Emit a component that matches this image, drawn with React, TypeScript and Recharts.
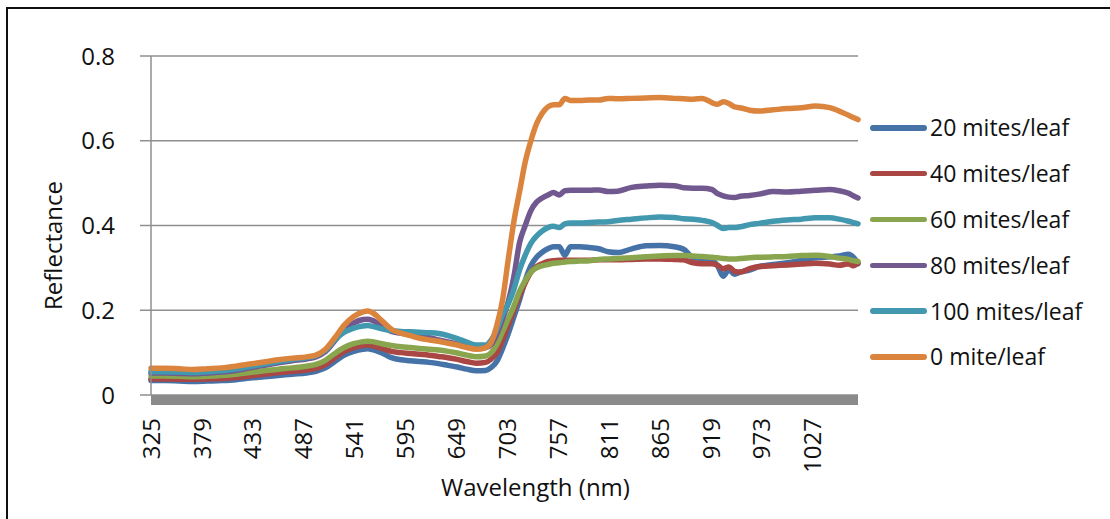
import { CartesianGrid, Line, LineChart, XAxis, YAxis } from "recharts";

// wavelengths (nm) sampled from the reference curves
const WAVELENGTHS = [
  325, 340, 355, 370, 385, 400, 415, 430, 445, 460,
  475, 490, 500, 510, 520, 530, 540, 550, 555, 560,
  570, 580, 590, 600, 610, 620, 630, 640, 650, 660,
  670, 680, 686, 692, 698, 704, 710, 716, 722, 728,
  734, 740, 746, 752, 758, 764, 770, 780, 790, 800,
  810, 820, 835, 850, 865, 880, 890, 900, 910, 920,
  926, 932, 938, 944, 950, 960, 970, 985, 1000, 1015,
  1030, 1045, 1055, 1065, 1070, 1075,
];

const MITES_20 = [
  0.034, 0.034, 0.033, 0.032, 0.033, 0.034, 0.036, 0.04, 0.043, 0.046,
  0.049, 0.052, 0.056, 0.064, 0.079, 0.094, 0.103, 0.108, 0.109, 0.107,
  0.099, 0.088, 0.083, 0.081, 0.079, 0.077, 0.074, 0.07, 0.066, 0.061,
  0.057, 0.058, 0.065, 0.08, 0.11, 0.145, 0.185, 0.225, 0.27, 0.305,
  0.325, 0.337, 0.345, 0.35, 0.35, 0.33, 0.35, 0.35, 0.348, 0.345,
  0.338, 0.336, 0.345, 0.352, 0.353, 0.35, 0.344, 0.325, 0.322, 0.318,
  0.305, 0.28, 0.296, 0.285, 0.29, 0.295, 0.303, 0.308, 0.312, 0.318,
  0.324, 0.326, 0.328, 0.332, 0.325, 0.31,
];

const MITES_40 = [
  0.038, 0.038, 0.037, 0.037, 0.038, 0.039, 0.041, 0.045, 0.049, 0.053,
  0.056, 0.059, 0.063, 0.072, 0.088, 0.103, 0.112, 0.117, 0.118, 0.116,
  0.11, 0.103, 0.1, 0.098, 0.096, 0.094, 0.091, 0.088, 0.084, 0.079,
  0.075, 0.077, 0.085, 0.1, 0.13, 0.165, 0.2, 0.235, 0.265, 0.29,
  0.303, 0.31, 0.315, 0.317, 0.318, 0.318, 0.318, 0.318, 0.318, 0.319,
  0.319, 0.319, 0.32, 0.321, 0.321, 0.32, 0.319, 0.312, 0.31, 0.31,
  0.306, 0.298, 0.302, 0.292, 0.29, 0.298, 0.303, 0.305, 0.307, 0.309,
  0.311, 0.309, 0.306, 0.31, 0.305, 0.312,
];

const MITES_60 = [
  0.045, 0.045, 0.044, 0.043, 0.044, 0.046, 0.049, 0.053, 0.057, 0.061,
  0.064, 0.068, 0.072, 0.082, 0.098, 0.112, 0.121, 0.126, 0.127, 0.126,
  0.121, 0.117, 0.114, 0.112, 0.11, 0.108, 0.106, 0.103, 0.099, 0.094,
  0.09, 0.092, 0.1, 0.12, 0.15, 0.18, 0.21, 0.245, 0.27, 0.29,
  0.3, 0.305, 0.308, 0.311, 0.312, 0.314, 0.315, 0.316, 0.317, 0.32,
  0.321, 0.322, 0.324, 0.326, 0.328, 0.329, 0.329, 0.328, 0.327, 0.325,
  0.324, 0.322, 0.321, 0.321, 0.322, 0.324, 0.325, 0.326, 0.327, 0.329,
  0.33, 0.327, 0.323, 0.32, 0.317, 0.315,
];

const MITES_80 = [
  0.052, 0.052, 0.051, 0.05, 0.052, 0.054, 0.058, 0.064, 0.07, 0.076,
  0.081, 0.085, 0.09, 0.102, 0.128, 0.155, 0.17, 0.178, 0.179, 0.176,
  0.163, 0.15, 0.146, 0.142, 0.138, 0.135, 0.13, 0.125, 0.12, 0.114,
  0.11, 0.112, 0.12, 0.145, 0.18, 0.22, 0.28, 0.36, 0.4, 0.435,
  0.455, 0.465, 0.472, 0.478, 0.472, 0.482, 0.483, 0.483, 0.483, 0.484,
  0.48, 0.481, 0.49, 0.493, 0.495, 0.494, 0.489, 0.488, 0.488, 0.485,
  0.475, 0.47, 0.467, 0.466, 0.469, 0.471, 0.474, 0.48, 0.479, 0.481,
  0.483, 0.485, 0.482, 0.476, 0.47, 0.465,
];

const MITES_100 = [
  0.055, 0.055, 0.054, 0.053, 0.055, 0.057, 0.061, 0.067, 0.073, 0.079,
  0.084, 0.088, 0.093, 0.105, 0.13, 0.148, 0.158, 0.163, 0.164, 0.162,
  0.156, 0.152, 0.15, 0.149, 0.148, 0.147, 0.145, 0.14, 0.133, 0.125,
  0.118, 0.118, 0.13, 0.155, 0.19, 0.215, 0.25, 0.295, 0.33, 0.358,
  0.375, 0.387, 0.395, 0.398, 0.395, 0.404, 0.406, 0.406, 0.407, 0.408,
  0.409, 0.412, 0.415, 0.418, 0.42, 0.419, 0.416, 0.415, 0.412, 0.407,
  0.4, 0.393, 0.395, 0.395, 0.397, 0.402, 0.405, 0.41, 0.413, 0.415,
  0.418, 0.418, 0.415, 0.41, 0.407, 0.404,
];

const MITES_0 = [
  0.063, 0.063, 0.062, 0.06, 0.062, 0.064, 0.068, 0.073, 0.078, 0.083,
  0.087, 0.09, 0.094, 0.108, 0.135, 0.165, 0.185, 0.196, 0.198, 0.194,
  0.175, 0.155, 0.146, 0.14, 0.134, 0.13, 0.127, 0.122, 0.118, 0.112,
  0.108, 0.112, 0.125, 0.165, 0.225, 0.32, 0.41, 0.48, 0.55, 0.6,
  0.64, 0.665, 0.68, 0.685, 0.685, 0.7, 0.695, 0.695, 0.696, 0.696,
  0.7, 0.699, 0.7, 0.701, 0.702, 0.7, 0.699, 0.698, 0.7, 0.69,
  0.686, 0.692, 0.688, 0.68, 0.678, 0.672, 0.67, 0.673, 0.676, 0.678,
  0.682, 0.678, 0.67, 0.66, 0.655, 0.65,
];

const X_TICKS = [325, 379, 433, 487, 541, 595, 649, 703, 757, 811, 865, 919, 973, 1027];
const Y_TICKS = [0, 0.2, 0.4, 0.6, 0.8];

const SERIES = [
  { key: "m20", name: "20 mites/leaf", color: "#4572A7", values: MITES_20 },
  { key: "m40", name: "40 mites/leaf", color: "#AA4643", values: MITES_40 },
  { key: "m60", name: "60 mites/leaf", color: "#89A54E", values: MITES_60 },
  { key: "m80", name: "80 mites/leaf", color: "#71588F", values: MITES_80 },
  { key: "m100", name: "100 mites/leaf", color: "#4198AF", values: MITES_100 },
  { key: "m0", name: "0 mite/leaf", color: "#DB843D", values: MITES_0 },
];

const rows = WAVELENGTHS.map((wl, i) => {
  const row: Record<string, number> = { wl };
  SERIES.forEach((s) => {
    row[s.key] = s.values[i];
  });
  return row;
});

const FONT = 24;
const GRID = "#8f8f8f";

function WavelengthTick({ x, y, payload }: any) {
  const ty = y + 23;
  return (
    <text x={x} y={ty} transform={`rotate(-90, ${x}, ${ty})`} textAnchor="end" dy="0.36em" fontSize={FONT} fill="#111">
      {payload.value}
    </text>
  );
}

function XTitle({ viewBox }: any) {
  const cx = viewBox.x + viewBox.width / 2 + 31;
  return (
    <text x={cx} y={viewBox.y + 92} textAnchor="middle" dy="0.36em" fontSize={FONT} fill="#111">
      Wavelength (nm)
    </text>
  );
}

function YTitle({ viewBox }: any) {
  const cx = viewBox.x + 53;
  const cy = viewBox.y + viewBox.height / 2 + 20;
  return (
    <text x={cx} y={cy} transform={`rotate(-90, ${cx}, ${cy})`} textAnchor="middle" dy="0.36em" fontSize={FONT} fill="#111">
      Reflectance
    </text>
  );
}

function LegendBox() {
  return (
    <div style={{ position: "absolute", left: 870, top: 105 }}>
      {SERIES.map((s) => (
        <div key={s.key} style={{ display: "flex", alignItems: "center", height: 45.8 }}>
          <span style={{ display: "inline-block", width: 57, height: 5.5, borderRadius: 3, background: s.color }} />
          <span style={{ marginLeft: 3, fontSize: 23, color: "#111", lineHeight: 1, whiteSpace: "nowrap" }}>{s.name}</span>
        </div>
      ))}
    </div>
  );
}

export default function App() {
  return (
    <div
      style={{
        position: "absolute",
        left: 0,
        top: 0,
        width: 1110,
        height: 519,
        overflow: "hidden",
        background: "#fff",
        fontFamily: '"Open Sans", sans-serif',
      }}
    >
      <div
        style={{
          position: "absolute",
          left: 6,
          top: 7,
          width: 1200,
          height: 600,
          borderLeft: "2px solid #111",
          borderTop: "2px solid #111",
        }}
      />
      <LineChart
        width={1110}
        height={519}
        data={rows}
        margin={{ top: 56, right: 252, bottom: 0, left: 0 }}
        style={{ position: "absolute", left: 0, top: 0 }}
      >
        <CartesianGrid vertical={false} stroke={GRID} strokeWidth={1.5} />
        <XAxis
          dataKey="wl"
          type="number"
          domain={[325, 1075]}
          ticks={X_TICKS}
          interval={0}
          height={124}
          tickLine={false}
          tickSize={0}
          tickMargin={0}
          tick={<WavelengthTick />}
          axisLine={{ stroke: "#8a8a8a", strokeWidth: 10, transform: "translate(0 5)" }}
          label={<XTitle />}
        />
        <YAxis
          domain={[0, 0.8]}
          ticks={Y_TICKS}
          width={151}
          tickSize={11}
          tickMargin={25}
          tickLine={{ stroke: GRID, strokeWidth: 1.5 }}
          axisLine={{ stroke: GRID, strokeWidth: 1.5 }}
          tick={{ fontSize: FONT, fill: "#111" }}
          tickFormatter={(v: number) => String(v)}
          label={<YTitle />}
        />
        {SERIES.map((s) => (
          <Line
            key={s.key}
            type="monotone"
            dataKey={s.key}
            name={s.name}
            stroke={s.color}
            strokeWidth={5.5}
            strokeLinecap="round"
            strokeLinejoin="round"
            dot={false}
            isAnimationActive={false}
          />
        ))}
      </LineChart>
      <LegendBox />
    </div>
  );
}
